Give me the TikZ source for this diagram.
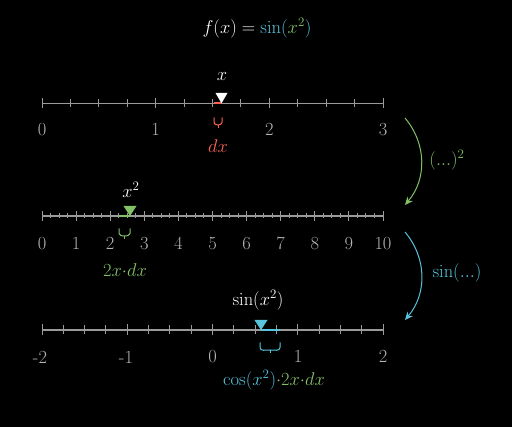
\RequirePackage{fix-cm}
\documentclass[tikz,border=0pt]{standalone}
\usetikzlibrary{arrows.meta}
\definecolor{mred}{HTML}{FC6255}
\definecolor{mgreen}{HTML}{83C167}
\definecolor{mblue}{HTML}{58C4DD}
\definecolor{mgray}{HTML}{9A9A9A}
\definecolor{lgray}{HTML}{B4B4B4}
\tikzset{
  axisline/.style={draw=mgray, line width=1.1pt},
  tickmark/.style={draw=mgray, line width=1pt},
  numlab/.style={text=lgray, font=\fontsize{18.5}{21}\selectfont, inner sep=0pt},
  txt/.style={font=\fontsize{18.5}{21}\selectfont, inner sep=0pt},
  brc/.style={line width=1pt},
  bendarrow/.style={line width=1pt, -{Stealth[length=8pt,width=7pt,inset=2.5pt]}, bend left=40},
}
% custom small brace: #1 = left x, #2 = right x, #3 = top y, #4 = colour
\newcommand\smallbrace[4]{%
  \pgfmathsetmacro{\bxm}{(#1+#2)/2}%
  \pgfmathsetmacro{\byl}{#3+5}%
  \pgfmathsetmacro{\bym}{#3+7.5}%
  \pgfmathsetmacro{\byt}{#3+11}%
  \draw[brc,#4] (#1,#3) -- (#1,\byl) to[out=-90,in=180] (\bxm,\bym)
     to[out=0,in=-90] (#2,\byl) -- (#2,#3);
  \draw[brc,#4] (\bxm,\bym) -- (\bxm,\byt);
}
\begin{document}
\begin{tikzpicture}[x=1pt,y=-1pt]
\fill[black] (0,0) rectangle (512,427);
\useasboundingbox (0,0) rectangle (512,427);

% title
\node[txt, text=white] (title) at (257,28) {$f(x)=\textcolor{mblue}{\sin(}\textcolor{mgreen}{x^2}\textcolor{mblue}{)}$};

% ---------- line 1: 0..3 ----------
\coordinate (l1a) at (42,103.3);
\coordinate (l1b) at (383,103.3);
\draw[axisline] (l1a) -- (l1b);
\foreach \i in {0,...,12}{
  \pgfmathsetmacro{\xx}{42+\i*341/12}
  \pgfmathtruncatemacro{\r}{mod(\i,4)}
  \ifnum\r=0 \draw[tickmark] (\xx,98) -- (\xx,108.5);
  \else \draw[tickmark] (\xx,99) -- (\xx,107.5);
  \fi
}
\foreach \n in {0,1,2,3}{
  \node[numlab] (n1\n) at ({42+\n*341/3},130) {$\n$};
}
\coordinate (dxa) at (214,103.3);
\coordinate (dxb) at (221.5,103.3);
\draw[mred, line width=1.6pt] (dxa) -- (dxb);
\fill[white] (221.5,103.3) -- (215.5,93) -- (227.5,93) -- cycle;
\node[txt, text=white] (xl) at (222,77) {$x$};
\smallbrace{214}{222}{117.5}{mred}
\node[txt, text=mred] (dxl) at (218,146) {$dx$};

% ---------- line 2: 0..10 ----------
\coordinate (l2a) at (42,216);
\coordinate (l2b) at (383,216);
\draw[axisline] (l2a) -- (l2b);
\foreach \i in {0,...,40}{
  \pgfmathsetmacro{\xx}{42+\i*341/40}
  \pgfmathtruncatemacro{\r}{mod(\i,4)}
  \ifnum\r=0 \draw[tickmark] (\xx,211) -- (\xx,221);
  \else \draw[tickmark] (\xx,213.5) -- (\xx,218.5);
  \fi
}
\foreach \n in {0,...,10}{
  \node[numlab] (n2\n) at ({42+\n*34.1},244) {$\n$};
}
\coordinate (gxa) at (119,216);
\coordinate (gxb) at (130,216);
\draw[mgreen, line width=1.6pt] (gxa) -- (gxb);
\fill[mgreen] (130,216) -- (123.5,206) -- (136.5,206) -- cycle;
\node[txt, text=white] (x2l) at (131,190) {$x^2$};
\smallbrace{119}{130}{228.5}{mgreen}
\node[txt, text=mgreen] (g2l) at (125,270) {$2x{\cdot}dx$};

% ---------- line 3: -2..2 ----------
\coordinate (l3a) at (42,330);
\coordinate (l3b) at (383,330);
\draw[axisline] (l3a) -- (l3b);
\foreach \i in {0,...,16}{
  \pgfmathsetmacro{\xx}{42+\i*341/16}
  \pgfmathtruncatemacro{\r}{mod(\i,4)}
  \ifnum\r=0 \draw[tickmark] (\xx,324.5) -- (\xx,335.5);
  \else \draw[tickmark] (\xx,325.5) -- (\xx,334.5);
  \fi
}
\node[numlab] (n3a) at (40,357) {-2};
\node[numlab] (n3b) at (126,357) {-1};
\node[numlab] (n3c) at (212.5,357) {$0$};
\node[numlab] (n3d) at (298,357) {$1$};
\node[numlab] (n3e) at (383,357) {$2$};
\coordinate (cxa) at (261,330);
\coordinate (cxb) at (280,330);
\draw[mblue, line width=1.6pt] (cxa) -- (cxb);
\fill[mblue] (261,330) -- (254.5,320) -- (267.5,320) -- cycle;
\node[txt, text=white] (sxl) at (258,300) {$\sin(x^2)$};
\smallbrace{260}{280}{342.5}{mblue}
\node[txt] (c3l) at (274,380) {$\textcolor{mblue}{\cos(x^2)}\textcolor{mgreen}{{\cdot}2x{\cdot}dx}$};

% ---------- arrows ----------
\coordinate (a1s) at (405,118);
\coordinate (a1e) at (405,205);
\draw[bendarrow, mgreen] (a1s) to (a1e);
\node[txt, text=mgreen] (a1l) at (447,160) {$(...)^2$};
\coordinate (a2s) at (405,232);
\coordinate (a2e) at (405,320);
\draw[bendarrow, mblue] (a2s) to (a2e);
\node[txt, text=mblue] (a2l) at (457,273) {$\sin(...)$};
\end{tikzpicture}
\end{document}
